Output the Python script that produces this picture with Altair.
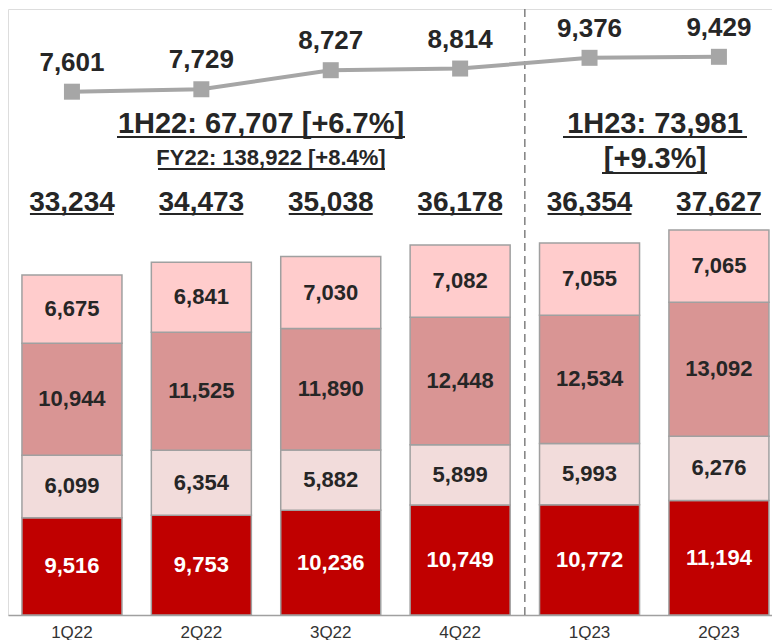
import altair as alt
import pandas as pd

# ---------------- data ----------------
quarters = ["1Q22", "2Q22", "3Q22", "4Q22", "1Q23", "2Q23"]
seg1 = [9516, 9753, 10236, 10749, 10772, 11194]      # bottom (dark red)
seg2 = [6099, 6354, 5882, 5899, 5993, 6276]          # pale pink
seg3 = [10944, 11525, 11890, 12448, 12534, 13092]    # dusty rose
seg4 = [6675, 6841, 7030, 7082, 7055, 7065]          # light pink (top)
totals = [33234, 34473, 35038, 36178, 36354, 37627]
line_vals = [7601, 7729, 8727, 8814, 9376, 9429]

segment_names = ["s1", "s2", "s3", "s4"]
segment_colors = ["#C00000", "#F2DCDB", "#D99594", "#FFCCCC"]

ann_texts = ["1H22: 67,707 [+6.7%]", "FY22: 138,922 [+8.4%]", "1H23: 73,981", "[+9.3%]"]

# ---------------- tables ----------------
rows = []
for i, q in enumerate(quarters):
    for k, (name, vals) in enumerate(zip(segment_names, [seg1, seg2, seg3, seg4])):
        rows.append({"quarter": q, "segment": name, "order": k, "value": vals[i]})
bars_df = pd.DataFrame(rows)
top_df = pd.DataFrame({"quarter": quarters, "total": totals, "line": line_vals})

# ---------------- layout / style ----------------
W, H = 764, 606
FONT = "Liberation Sans"
DARK = "#262626"
GRAY = "#A6A6A6"
BAR_DOMAIN = [0, 59238]
LINE_DOMAIN = [-19811, 11933]

xscale = alt.Scale(paddingInner=0.227, paddingOuter=0.0657, align=0.82)
xaxis = alt.Axis(title=None, labelAngle=0, labelFontSize=17, labelColor="#333333",
                 labelFont=FONT, ticks=False, domainColor="#A0A0A0", domainWidth=1.5,
                 labelPadding=9, grid=False)
xenc = alt.X("quarter:N", sort=quarters, scale=xscale, axis=xaxis)

bars = alt.Chart(bars_df).mark_bar(stroke="#A0A0A0", strokeWidth=1.5).encode(
    x=xenc,
    y=alt.Y("value:Q", stack="zero", scale=alt.Scale(domain=BAR_DOMAIN), axis=None),
    color=alt.Color("segment:N", scale=alt.Scale(domain=segment_names, range=segment_colors), legend=None),
    order=alt.Order("order:Q", sort="ascending"),
)

seg_labels = alt.Chart(bars_df).transform_stack(
    stack="value", groupby=["quarter"], as_=["v0", "v1"],
    sort=[alt.SortField("order", order="ascending")],
).transform_calculate(mid="(datum.v0 + datum.v1) / 2").mark_text(
    font=FONT, fontWeight="bold", fontSize=22, baseline="middle"
).encode(
    x=xenc,
    y=alt.Y("mid:Q", scale=alt.Scale(domain=BAR_DOMAIN), axis=None),
    text=alt.Text("value:Q", format=","),
    color=alt.condition("datum.segment == 's1'", alt.value("white"), alt.value(DARK)),
)

total_text = alt.Chart(top_df).mark_text(
    font=FONT, fontWeight="bold", fontSize=28, baseline="alphabetic", color=DARK
).encode(x=xenc, y=alt.value(202), text=alt.Text("total:Q", format=","))

total_ul = alt.Chart(top_df).mark_bar(color=DARK, width=alt.RelativeBandSize(0.84)).encode(
    x=xenc, y=alt.value(204), y2=alt.value(206)
)

sep = alt.Chart(pd.DataFrame({"quarter": ["1Q23"]})).mark_rule(
    color="#808080", strokeWidth=1.5, strokeDash=[8, 5], xOffset=-14.7
).encode(
    x=alt.X("quarter:N", sort=quarters, scale=xscale, axis=xaxis, bandPosition=0),
    y=alt.value(0), y2=alt.value(H),
)

# annotation placement (plot coordinates): center x, baseline y, size, underline x0, x1, y
ann_layout = [
    (253, 124, 29, 109, 397, 128),
    (263, 156, 22, 150, 377, 160),
    (647, 124, 29, 555, 739, 128),
    (647, 159, 29, 594, 699, 164),
]
ann_layers = []
for t, (cx, by, fs, x0, x1, uy) in zip(ann_texts, ann_layout):
    d = pd.DataFrame({"t": [t]})
    ann_layers.append(
        alt.Chart(d).mark_text(font=FONT, fontWeight="bold", fontSize=fs,
                               baseline="alphabetic", align="center", color=DARK)
        .encode(x=alt.value(cx), y=alt.value(by), text="t:N")
    )
    ann_layers.append(
        alt.Chart(d).mark_rule(color=DARK, strokeWidth=2)
        .encode(x=alt.value(x0), x2=alt.value(x1), y=alt.value(uy))
    )

yline = alt.Y("line:Q", scale=alt.Scale(domain=LINE_DOMAIN), axis=None)
line = alt.Chart(top_df).mark_line(color=GRAY, strokeWidth=4).encode(x=xenc, y=yline)
pts = alt.Chart(top_df).mark_point(shape="square", size=256, filled=True, color=GRAY, opacity=1).encode(x=xenc, y=yline)
line_labels = alt.Chart(top_df).mark_text(
    font=FONT, fontWeight="bold", fontSize=26, baseline="alphabetic", dy=-21, color=DARK
).encode(x=xenc, y=yline, text=alt.Text("line:Q", format=","))

chart = alt.layer(
    bars, seg_labels, total_ul, total_text, sep, *ann_layers, line, pts, line_labels
).resolve_scale(y="independent").properties(
    width=W, height=H, padding=0
).configure_view(strokeWidth=0).configure(font=FONT)

chart.save("out.html", embed_options={"renderer": "svg", "actions": False})
